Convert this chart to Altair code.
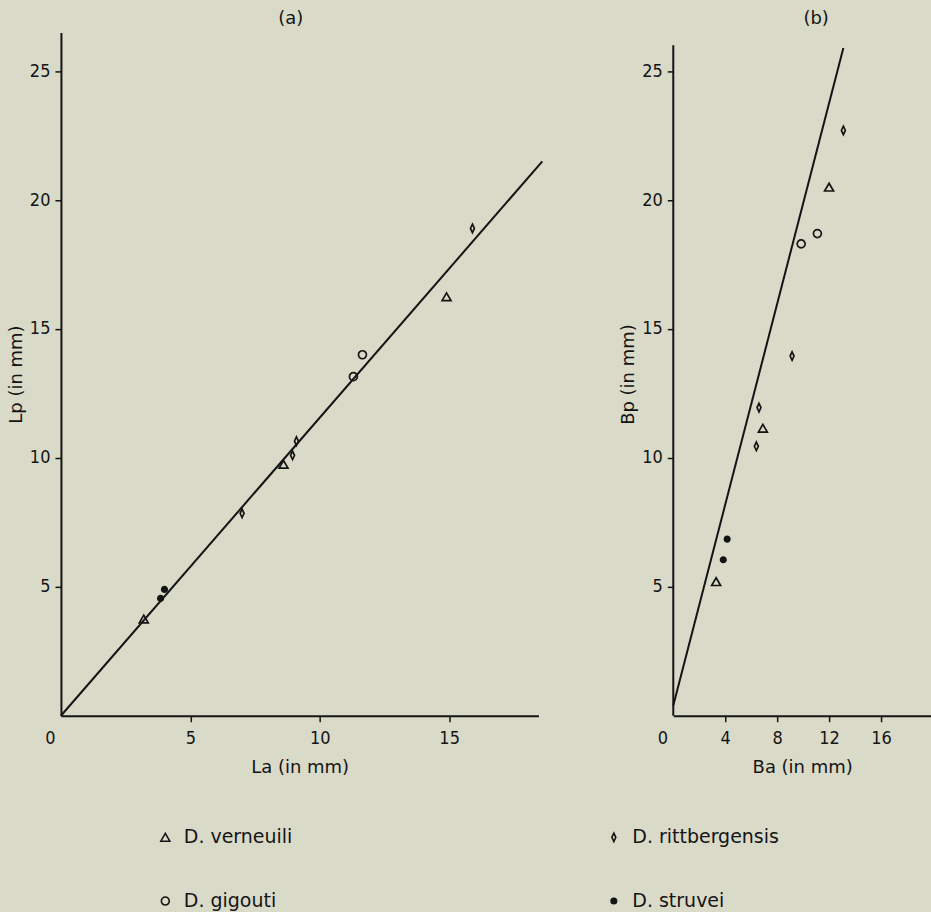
import altair as alt
import pandas as pd

species = ["D. verneuili", "D. gigouti", "D. rittbergensis", "D. struvei"]

# Panel (a): La vs Lp
a_species = ["D. verneuili"] * 3 + ["D. rittbergensis"] * 4 + ["D. gigouti"] * 2 + ["D. struvei"] * 2
a_La = [3.2, 8.6, 14.9, 7.0, 8.95, 9.1, 15.9, 11.3, 11.65, 3.85, 4.0]
a_Lp = [3.75, 9.75, 16.25, 7.85, 10.1, 10.65, 18.9, 13.15, 14.0, 4.55, 4.9]

# Panel (b): Ba vs Bp
b_species = ["D. verneuili"] * 3 + ["D. rittbergensis"] * 4 + ["D. gigouti"] * 2 + ["D. struvei"] * 2
b_Ba = [3.3, 6.9, 12.0, 6.4, 6.6, 9.15, 13.1, 9.85, 11.1, 3.85, 4.15]
b_Bp = [5.2, 11.15, 20.5, 10.45, 11.95, 13.95, 22.7, 18.3, 18.7, 6.05, 6.85]

# fitted lines
line_a_x = [0, 18.6]
line_a_y = [0, 21.5]
line_b_x = [0, 13.1]
line_b_y = [0.4, 25.9]

# axis extents
a_x_domain = [0, 18.45]
b_x_domain = [0, 19.85]
y_domain = [0, 26.5]
b_axis_top = [26.0]

a_xticks = [0, 5, 10, 15]
b_xticks = [0, 4, 8, 12, 16]
yticks = [5, 10, 15, 20, 25]

ink = "#141414"
bg = "#dadac9"
font_num = "Liberation Sans Narrow, DejaVu Sans Condensed, sans-serif"
font_txt = "DejaVu Sans, sans-serif"

df_a = pd.DataFrame({"species": a_species, "x": a_La, "y": a_Lp})
df_b = pd.DataFrame({"species": b_species, "x": b_Ba, "y": b_Bp})
ln_a = pd.DataFrame({"x": line_a_x, "y": line_a_y})
ln_b = pd.DataFrame({"x": line_b_x, "y": line_b_y})
ax_b = pd.DataFrame({"x": [0], "y": [0], "y2": b_axis_top})

diamond = "M0,-1.25L0.58,0L0,1.25L-0.58,0Z"
shape_scale = alt.Scale(domain=species, range=["triangle-up", "circle", diamond, "circle"])
fill_scale = alt.Scale(domain=species, range=["transparent", "transparent", "transparent", ink])
stroke_scale = alt.Scale(domain=species, range=[ink, ink, ink, ink])
size_scale = alt.Scale(domain=species, range=[80, 30, 220, 28])

W_A, W_B, H = 478, 258, 684

zero_offset = {"condition": {"test": "datum.value === 0", "value": -11}, "value": 0}
zero_tick = {"condition": {"test": "datum.value === 0", "value": 0}, "value": 1}

legend = alt.Legend(
    title=None, orient="none", legendX=95, legendY=796, columns=2,
    columnPadding=312, rowPadding=44, labelFont=font_txt, labelFontSize=19,
    labelColor=ink, symbolStrokeWidth=1.6, labelOffset=9,
)


def points(df):
    return alt.Chart(df).mark_point(strokeWidth=1.7, opacity=1).encode(
        x="x:Q", y="y:Q",
        shape=alt.Shape("species:N", scale=shape_scale, legend=legend),
        fill=alt.Fill("species:N", scale=fill_scale, legend=legend),
        stroke=alt.Stroke("species:N", scale=stroke_scale, legend=legend),
        size=alt.Size("species:N", scale=size_scale, legend=legend),
    )


def x_axis(title, ticks):
    return alt.Axis(title=title, values=ticks, labelOffset=zero_offset, labelFlush=False,
                    tickOpacity=zero_tick, labelPadding=8, titlePadding=11)


def y_axis(title, domain=True):
    return alt.Axis(title=title, values=yticks, labelPadding=5, titlePadding=4,
                    domain=domain)


xa = alt.X("x:Q", scale=alt.Scale(domain=a_x_domain, nice=False, zero=False),
           axis=x_axis("La  (in mm)", a_xticks))
ya = alt.Y("y:Q", scale=alt.Scale(domain=y_domain, nice=False, zero=False),
           axis=y_axis("Lp  (in mm)"))

pa_line = alt.Chart(ln_a).mark_line(color=ink, strokeWidth=2, clip=False).encode(x=xa, y=ya)
pa = alt.layer(pa_line, points(df_a)).properties(
    width=W_A, height=H,
    title=alt.TitleParams("(a)", font=font_txt, fontSize=18, fontWeight="normal",
                          color=ink, offset=4, dx=-9),
)

xb = alt.X("x:Q", scale=alt.Scale(domain=b_x_domain, nice=False, zero=False),
           axis=x_axis("Ba  (in mm)", b_xticks))
yb = alt.Y("y:Q", scale=alt.Scale(domain=y_domain, nice=False, zero=False),
           axis=y_axis("Bp  (in mm)", domain=False))

pb_axis = alt.Chart(ax_b).mark_rule(color=ink, strokeWidth=2).encode(x=xb, y=yb, y2="y2:Q")
pb_line = alt.Chart(ln_b).mark_line(color=ink, strokeWidth=2).encode(x="x:Q", y="y:Q")
pb = alt.layer(pb_axis, pb_line, points(df_b)).properties(
    width=W_B, height=H,
    title=alt.TitleParams("(b)", font=font_txt, fontSize=18, fontWeight="normal",
                          color=ink, offset=4, dx=14),
)

chart = (
    alt.hconcat(pa, pb, spacing=73)
    .resolve_scale(x="independent", y="independent", shape="shared", fill="shared",
                   stroke="shared", size="shared")
    .resolve_legend(shape="shared", fill="shared", stroke="shared", size="shared")
    .properties(background=bg, padding={"left": 7, "top": 10, "right": 0, "bottom": 0})
    .configure_view(stroke=None)
    .configure_axis(
        domainColor=ink, domainWidth=2, tickColor=ink, tickWidth=1.5, tickSize=6,
        labelFont=font_num, labelFontSize=18, labelColor=ink,
        titleFont=font_txt, titleFontSize=18, titleFontWeight="normal", titleColor=ink,
        grid=False,
    )
)

chart.save("out.html", embed_options={"renderer": "svg", "actions": False})
